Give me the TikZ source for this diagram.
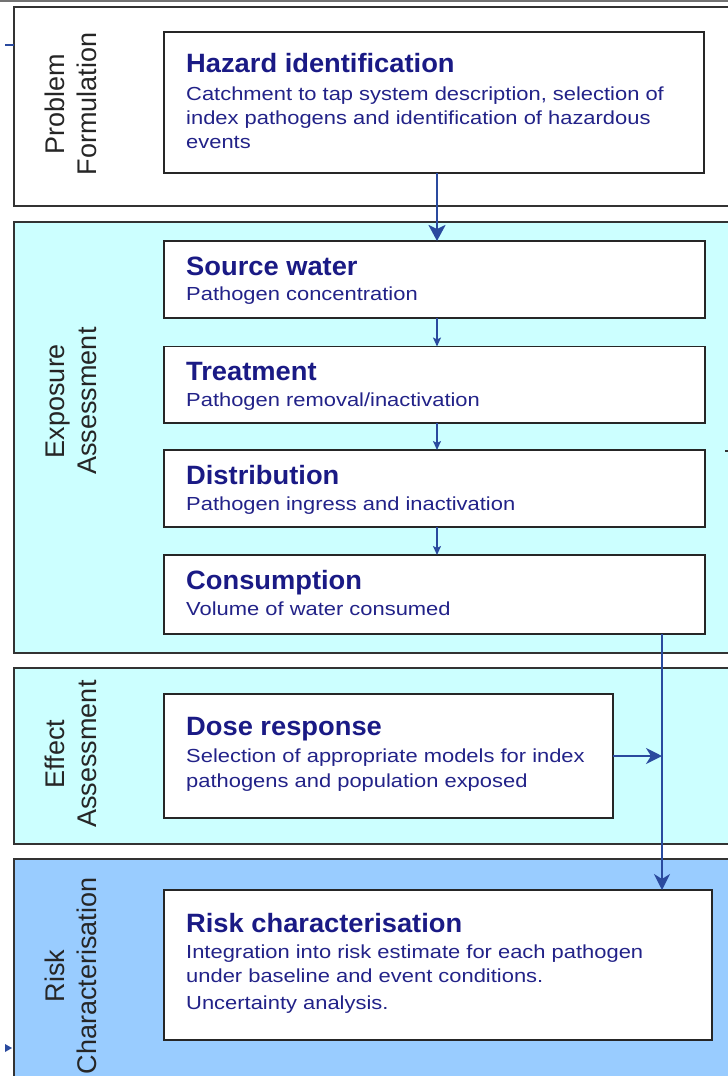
\documentclass[tikz,border=0pt]{standalone}
\usepackage{fontspec}
\setmainfont{Liberation Sans}
\newfontfamily\bodyfont[FakeStretch=1.16]{Liberation Sans}
\newfontfamily\titlefont[FakeStretch=1.03]{Liberation Sans}
\usetikzlibrary{arrows.meta}
\definecolor{navy}{HTML}{1A1A85}
\definecolor{bodyblue}{HTML}{222288}
\definecolor{arrowblue}{HTML}{2A4A9E}
\definecolor{cyanfill}{HTML}{CCFFFF}
\definecolor{riskfill}{HTML}{99CCFF}
\tikzset{
  panel/.style={draw=black!80, line width=1.3pt, anchor=north west, inner sep=0pt, outer sep=0pt},
  stepbox/.style={draw=black!85, line width=1.8pt, fill=white, anchor=north west, inner sep=0pt, outer sep=0pt},
  sidelabel/.style={rotate=90, align=center, inner sep=0pt, text=black!85, font=\fontsize{27}{32}\selectfont},
  titletext/.style={anchor=base west, inner sep=0pt, text=navy, font=\titlefont\bfseries\fontsize{26.5}{30}\selectfont},
  bodytext/.style={anchor=base west, inner sep=0pt, text=bodyblue, font=\bodyfont\fontsize{18.9}{24}\selectfont},
  bigarrow/.style={draw=arrowblue, line width=2.6pt, -{Stealth[length=16pt,width=17pt,inset=4pt]}},
  smallarrow/.style={draw=arrowblue, line width=1.8pt, -{Stealth[length=9pt,width=8pt,inset=2pt]}},
  flowline/.style={draw=arrowblue, line width=2pt},
}
\begin{document}
\begin{tikzpicture}[x=1pt,y=-1pt]
\useasboundingbox (0,0) rectangle (728,1076);
\clip (0,0) rectangle (728,1076);
\fill[white] (0,0) rectangle (728,1076);
% top rule
\draw[black!55, line width=1.5pt] (0,1) -- (728,1);
% panels
\node[panel, fill=white, minimum width=740pt, minimum height=199pt] (pprob) at (14,7) {};
\node[panel, fill=cyanfill, minimum width=740pt, minimum height=431pt] (pexp) at (14,222) {};
\node[panel, fill=cyanfill, minimum width=740pt, minimum height=176pt] (peff) at (14,668) {};
\node[panel, fill=riskfill, minimum width=740pt, minimum height=260pt] (prisk) at (14,859) {};
% side labels
\node[sidelabel] (lprob) at (71,104) {Problem\\Formulation};
\node[sidelabel] (lexp) at (71,401) {Exposure\\Assessment};
\node[sidelabel] (leff) at (71,754) {Effect\\Assessment};
\node[sidelabel] (lrisk) at (71,976) {Risk\\Characterisation};
% boxes
\node[stepbox, minimum width=540pt, minimum height=141pt] (hazard) at (164,32) {};
\node[stepbox, minimum width=541pt, minimum height=77pt] (source) at (164,241) {};
\node[stepbox, minimum width=541pt, minimum height=76.5pt] (treat) at (164,346.5) {};
\node[stepbox, minimum width=541pt, minimum height=77pt] (dist) at (164,450) {};
\node[stepbox, minimum width=541pt, minimum height=79pt] (cons) at (164,555) {};
\node[stepbox, minimum width=449pt, minimum height=124pt] (dose) at (164,694) {};
\node[stepbox, minimum width=548pt, minimum height=150pt] (risk) at (164,890) {};
% texts
\node[titletext] (t1) at (186,72) {Hazard identification};
\node[bodytext] (b1a) at (186,100) {Catchment to tap system description, selection of};
\node[bodytext] (b1b) at (186,124) {index pathogens and identification of hazardous};
\node[bodytext] (b1c) at (186,148) {events};
\node[titletext] (t2) at (186,275) {Source water};
\node[bodytext] (b2) at (186,300) {Pathogen concentration};
\node[titletext] (t3) at (186,380) {Treatment};
\node[bodytext] (b3) at (186,406) {Pathogen removal/inactivation};
\node[titletext] (t4) at (186,484) {Distribution};
\node[bodytext] (b4) at (186,510) {Pathogen ingress and inactivation};
\node[titletext] (t5) at (186,589) {Consumption};
\node[bodytext] (b5) at (186,615) {Volume of water consumed};
\node[titletext] (t6) at (186,735) {Dose response};
\node[bodytext] (b6a) at (186,762) {Selection of appropriate models for index};
\node[bodytext] (b6b) at (186,787) {pathogens and population exposed};
\node[titletext] (t7) at (186,932) {Risk characterisation};
\node[bodytext] (b7a) at (186,958) {Integration into risk estimate for each pathogen};
\node[bodytext] (b7b) at (186,982) {under baseline and event conditions.};
\node[bodytext] (b7c) at (186,1009) {Uncertainty analysis.};
% connectors
\coordinate (ax) at (437,0);
\coordinate (vx) at (662,0);
\draw[bigarrow] (hazard.south -| ax) -- (source.north -| ax);
\draw[smallarrow] (source.south -| ax) -- (treat.north -| ax);
\draw[smallarrow] (treat.south -| ax) -- (dist.north -| ax);
\draw[smallarrow] (dist.south -| ax) -- (cons.north -| ax);
\draw[flowline, -{Stealth[length=16pt,width=16pt,inset=5pt]}] (cons.south -| vx) -- (risk.north -| vx);
\draw[flowline, -{Stealth[length=16pt,width=16pt,inset=5pt]}] (dose.east) -- (dose.east -| vx);
% edge marks
\draw[arrowblue, line width=2pt] (5,45) -- (14,45);
\fill[arrowblue] (5,1044) -- (12,1048) -- (5,1052) -- cycle;
\draw[black!80, line width=1.2pt] (725,451) -- (728,451);
\end{tikzpicture}
\end{document}
